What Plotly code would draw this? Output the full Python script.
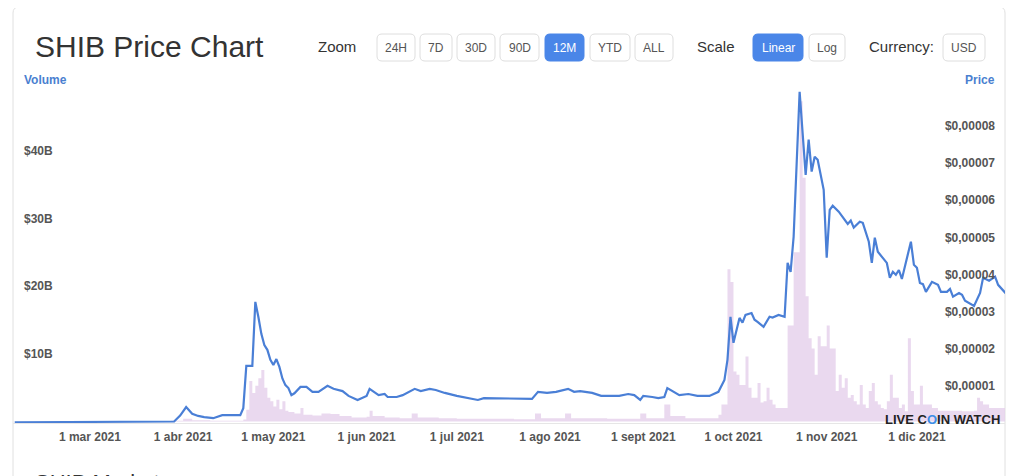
import plotly.graph_objects as go

# ---------------- data ----------------
price_dates = [
    "2021-02-04", "2021-02-20", "2021-03-08", "2021-03-22", "2021-03-29", "2021-03-31",
    "2021-04-02", "2021-04-04", "2021-04-06", "2021-04-08", "2021-04-11", "2021-04-14",
    "2021-04-17", "2021-04-20", "2021-04-21", "2021-04-22", "2021-04-24", "2021-04-25",
    "2021-04-26", "2021-04-27", "2021-04-28", "2021-04-29", "2021-04-30", "2021-05-01",
    "2021-05-02", "2021-05-03", "2021-05-04", "2021-05-05", "2021-05-06", "2021-05-07",
    "2021-05-08", "2021-05-10", "2021-05-12", "2021-05-14", "2021-05-16", "2021-05-19",
    "2021-05-21", "2021-05-24", "2021-05-26", "2021-05-29", "2021-06-01", "2021-06-02",
    "2021-06-05", "2021-06-07", "2021-06-08", "2021-06-11", "2021-06-13", "2021-06-17",
    "2021-06-19", "2021-06-22", "2021-06-24", "2021-06-27", "2021-07-01", "2021-07-03",
    "2021-07-08", "2021-07-10", "2021-07-15", "2021-07-18", "2021-07-22", "2021-07-26",
    "2021-07-28", "2021-07-31", "2021-08-03", "2021-08-07", "2021-08-09", "2021-08-11",
    "2021-08-15", "2021-08-18", "2021-08-21", "2021-08-24", "2021-08-27", "2021-08-29",
    "2021-08-31", "2021-09-01", "2021-09-04", "2021-09-06", "2021-09-08", "2021-09-09",
    "2021-09-13", "2021-09-16", "2021-09-19", "2021-09-23", "2021-09-26", "2021-09-28",
    "2021-09-29", "2021-09-30", "2021-10-01", "2021-10-03", "2021-10-04", "2021-10-05",
    "2021-10-07", "2021-10-08", "2021-10-09", "2021-10-11", "2021-10-13", "2021-10-14",
    "2021-10-16", "2021-10-18", "2021-10-19", "2021-10-20", "2021-10-21", "2021-10-22",
    "2021-10-23", "2021-10-25", "2021-10-26", "2021-10-27", "2021-10-28", "2021-10-29",
    "2021-10-31", "2021-11-01", "2021-11-02", "2021-11-03", "2021-11-05", "2021-11-08",
    "2021-11-09", "2021-11-10", "2021-11-12", "2021-11-13", "2021-11-15", "2021-11-16",
    "2021-11-17", "2021-11-18", "2021-11-20", "2021-11-21", "2021-11-22", "2021-11-23",
    "2021-11-24", "2021-11-25", "2021-11-26", "2021-11-29", "2021-11-30", "2021-12-01",
    "2021-12-02", "2021-12-03", "2021-12-04", "2021-12-06", "2021-12-08", "2021-12-09",
    "2021-12-11", "2021-12-12", "2021-12-13", "2021-12-15", "2021-12-16", "2021-12-17",
    "2021-12-20", "2021-12-22", "2021-12-23", "2021-12-25", "2021-12-27", "2021-12-28",
    "2021-12-31",
]
# price in units of 1e-5 USD
price_e5 = [
    0.02, 0.02, 0.02, 0.03, 0.04, 0.20,
    0.43, 0.25, 0.19, 0.16, 0.13, 0.21,
    0.20, 0.21, 0.40, 1.54, 1.54, 3.26,
    2.86, 2.40, 2.10, 1.97, 1.70, 1.56,
    1.72, 1.51, 1.20, 1.02, 0.94, 0.75,
    0.80, 0.97, 0.97, 0.84, 0.84, 1.00,
    0.92, 0.86, 0.73, 0.62, 0.73, 0.92,
    0.75, 0.78, 0.70, 0.70, 0.75, 0.92,
    0.86, 0.92, 0.89, 0.81, 0.73, 0.70,
    0.62, 0.67, 0.67, 0.65, 0.65, 0.65,
    0.84, 0.81, 0.84, 0.92, 0.84, 0.86,
    0.81, 0.73, 0.73, 0.73, 0.78, 0.75,
    0.62, 0.73, 0.70, 0.67, 0.70, 0.94,
    0.75, 0.78, 0.73, 0.73, 0.84, 1.16,
    1.70, 2.86, 2.16, 2.83, 2.70, 2.91,
    2.96, 2.78, 2.72, 2.59, 2.86, 2.84,
    2.91, 2.86, 4.31, 4.07, 5.01, 7.00,
    8.92, 6.68, 7.63, 6.77, 7.17, 7.09,
    6.28, 4.45, 5.74, 5.85, 5.69, 5.36,
    5.45, 5.26, 5.42, 5.39, 4.88, 4.31,
    4.99, 4.61, 4.39, 4.31, 3.91, 4.07,
    3.99, 4.12, 3.88, 4.88, 4.26, 4.18,
    3.77, 3.74, 3.53, 3.80, 3.72, 3.53,
    3.53, 3.61, 3.40, 3.50, 3.45, 3.29,
    3.15, 3.50, 3.91, 3.83, 3.94, 3.72,
    3.45,
]

volume_dates = [
    "2021-02-04", "2021-03-28", "2021-04-01", "2021-04-04", "2021-04-10", "2021-04-21",
    "2021-04-22", "2021-04-23", "2021-04-24", "2021-04-25", "2021-04-26", "2021-04-27",
    "2021-04-28", "2021-04-29", "2021-04-30", "2021-05-01", "2021-05-02", "2021-05-03",
    "2021-05-04", "2021-05-05", "2021-05-06", "2021-05-08", "2021-05-10", "2021-05-11",
    "2021-05-14", "2021-05-17", "2021-05-20", "2021-05-23", "2021-05-27", "2021-06-01",
    "2021-06-02", "2021-06-03", "2021-06-07", "2021-06-12", "2021-06-16", "2021-06-18",
    "2021-06-25", "2021-07-01", "2021-07-10", "2021-07-20", "2021-07-27", "2021-07-29",
    "2021-08-06", "2021-08-08", "2021-08-20", "2021-08-31", "2021-09-02", "2021-09-08",
    "2021-09-10", "2021-09-15", "2021-09-22", "2021-09-26", "2021-09-27", "2021-09-28",
    "2021-09-29", "2021-09-30", "2021-10-01", "2021-10-02", "2021-10-03", "2021-10-04",
    "2021-10-05", "2021-10-06", "2021-10-07", "2021-10-08", "2021-10-09", "2021-10-10",
    "2021-10-11", "2021-10-12", "2021-10-13", "2021-10-14", "2021-10-15", "2021-10-18",
    "2021-10-19", "2021-10-20", "2021-10-21", "2021-10-22", "2021-10-23", "2021-10-24",
    "2021-10-25", "2021-10-26", "2021-10-27", "2021-10-28", "2021-10-29", "2021-10-30",
    "2021-10-31", "2021-11-01", "2021-11-02", "2021-11-03", "2021-11-04", "2021-11-05",
    "2021-11-06", "2021-11-07", "2021-11-08", "2021-11-09", "2021-11-10", "2021-11-11",
    "2021-11-12", "2021-11-13", "2021-11-14", "2021-11-15", "2021-11-16", "2021-11-17",
    "2021-11-18", "2021-11-19", "2021-11-20", "2021-11-21", "2021-11-22", "2021-11-23",
    "2021-11-24", "2021-11-25", "2021-11-26", "2021-11-27", "2021-11-28", "2021-11-29",
    "2021-11-30", "2021-12-01", "2021-12-02", "2021-12-03", "2021-12-06", "2021-12-08",
    "2021-12-12", "2021-12-16", "2021-12-20", "2021-12-21", "2021-12-22", "2021-12-23",
    "2021-12-25", "2021-12-28", "2021-12-31",
]
# volume in billions of USD
volume_b = [
    0.05, 0.1, 0.4, 0.2, 0.1, 0.3,
    1.75, 6.0, 4.2, 5.3, 6.4, 7.6,
    5.0, 3.5, 3.0, 2.2, 3.2, 1.8,
    3.0, 1.6, 1.4, 1.2, 2.0, 1.0,
    0.9, 1.2, 1.1, 0.8, 0.6, 0.7,
    1.6, 0.8, 0.6, 0.5, 1.2, 0.6,
    0.5, 0.4, 0.4, 0.35, 1.2, 0.5,
    1.2, 0.5, 0.4, 1.2, 0.5, 2.5,
    0.8, 0.5, 0.5, 1.0, 2.5, 2.5,
    22.5, 20.6, 7.4, 6.9, 5.4, 5.4,
    9.6, 5.0, 3.5, 3.5, 5.7, 2.8,
    3.0, 5.0, 3.2, 2.5, 2.0, 2.0,
    14.2, 14.2, 25.0, 25.0, 47.3, 36.0,
    18.5, 12.3, 10.8, 6.9, 12.6, 11.1,
    11.1, 14.2, 10.8, 10.8, 4.5, 6.9,
    5.0, 6.4, 3.5, 3.9, 3.0, 2.5,
    5.4, 2.5, 2.0, 4.5, 5.7, 3.0,
    2.5, 2.0, 1.8, 3.0, 6.9, 3.5,
    3.5, 2.0, 2.5, 1.5, 12.3, 4.5,
    2.5, 2.5, 5.3, 2.5, 2.0, 1.6,
    1.6, 1.5, 1.6, 3.5, 3.0, 2.5,
    2.0, 2.0, 2.0,
]

month_ticks = ["2021-03-01", "2021-04-01", "2021-05-01", "2021-06-01", "2021-07-01",
               "2021-08-01", "2021-09-01", "2021-10-01", "2021-11-01", "2021-12-01"]
month_labels = ["1 mar 2021", "1 abr 2021", "1 may 2021", "1 jun 2021", "1 jul 2021",
                "1 ago 2021", "1 sept 2021", "1 oct 2021", "1 nov 2021", "1 dic 2021"]

volume_ticks = [10, 20, 30, 40]
volume_labels = ["$10B", "$20B", "$30B", "$40B"]
price_ticks = [1e-5, 2e-5, 3e-5, 4e-5, 5e-5, 6e-5, 7e-5, 8e-5]
price_labels = ["$0,00001", "$0,00002", "$0,00003", "$0,00004",
                "$0,00005", "$0,00006", "$0,00007", "$0,00008"]

zoom_buttons = ["24H", "7D", "30D", "90D", "12M", "YTD", "ALL"]
scale_buttons = ["Linear", "Log"]

# ---------------- layout geometry (screen pixels) ----------------
# the page body has an 8px margin, so the figure starts at (8, 8) on screen
OX, OY = 8, 8
W, H = 1024 - OX, 476 - OY
L, R, T, B = 13, 1005, 88, 423          # plot area on screen
PW, PH = R - L, B - T


def X(px):
    return (px - L) / PW


def Y(py):
    return (B - py) / PH


def rounded(x0, y0, x1, y1, r):
    rx, ry = r / PW, r / PH
    a, b, c, d = X(x0), Y(y0), X(x1), Y(y1)
    return (f"M {a+rx},{b} L {c-rx},{b} Q {c},{b} {c},{b-ry} L {c},{d+ry} "
            f"Q {c},{d} {c-rx},{d} L {a+rx},{d} Q {a},{d} {a},{d+ry} L {a},{b-ry} "
            f"Q {a},{b} {a+rx},{b} Z")


FONT = "Liberation Sans, Arial, sans-serif"
BLUE = "#4a86e8"
LINE_BLUE = "#4a7fd6"

fig = go.Figure()

fig.add_trace(go.Scatter(
    x=volume_dates, y=volume_b, mode="lines", line=dict(shape="hv", width=0, color="#e8d6ee"),
    fill="tozeroy", fillcolor="rgba(228,206,234,0.78)", yaxis="y", hoverinfo="skip",
    showlegend=False,
))
fig.add_trace(go.Scatter(
    x=price_dates, y=[v * 1e-5 for v in price_e5], mode="lines",
    line=dict(color=LINE_BLUE, width=2.2), yaxis="y2", showlegend=False,
))

shapes = []
annotations = []


def text(t, px, py, size, color, xanchor="left", bold=False):
    annotations.append(dict(
        text=f"<b>{t}</b>" if bold else t, xref="paper", yref="paper",
        x=X(px), y=Y(py), xanchor=xanchor, yanchor="middle",
        font=dict(size=size, color=color, family=FONT), showarrow=False,
    ))


# card border
shapes.append(dict(
    type="path", xref="paper", yref="paper", layer="below",
    path=(f"M {X(13)},{Y(490)} L {X(13)},{Y(13)} Q {X(13)},{Y(7)} {X(19)},{Y(7)} "
          f"L {X(999)},{Y(7)} Q {X(1005)},{Y(7)} {X(1005)},{Y(13)} L {X(1005)},{Y(490)}"),
    line=dict(color="#e0e0e0", width=1),
))

text("SHIB Price Chart", 33, 47, 30, "#333")
text("Zoom", 316, 47, 15, "#333")
text("Scale", 695, 47, 15, "#333")
text("Currency:", 867, 47, 15, "#333")

zoom_spans = [(377, 415), (420, 452), (457, 495), (500, 539), (545, 584), (590, 630), (635, 673)]
for label, (a, b) in zip(zoom_buttons, zoom_spans):
    active = label == "12M"
    shapes.append(dict(type="path", xref="paper", yref="paper", path=rounded(a, 34, b, 61, 5),
                       fillcolor=BLUE if active else "white",
                       line=dict(color=BLUE if active else "#dedede", width=1)))
    text(label, (a + b) / 2, 47.5, 12, "white" if active else "#555", xanchor="center")

scale_spans = [(753, 803), (809, 845)]
for label, (a, b) in zip(scale_buttons, scale_spans):
    active = label == "Linear"
    shapes.append(dict(type="path", xref="paper", yref="paper", path=rounded(a, 34, b, 61, 5),
                       fillcolor=BLUE if active else "white",
                       line=dict(color=BLUE if active else "#dedede", width=1)))
    text(label, (a + b) / 2, 47.5, 12, "white" if active else "#555", xanchor="center")

shapes.append(dict(type="path", xref="paper", yref="paper", path=rounded(943, 34, 985, 61, 5),
                   fillcolor="white", line=dict(color="#dedede", width=1)))
text("USD", 964, 47.5, 12, "#555", xanchor="center")

text("Volume", 22, 80, 12, "#4a7fd0", bold=True)
text("Price", 997, 80, 12, "#4a7fd0", xanchor="right", bold=True)

text("LIVE C<span style='color:#3d8ee6'>O</span>IN WATCH", 1002, 419, 13, "#222",
     xanchor="right", bold=True)

text("SHIB Markets", 33, 482, 22, "#333")

fig.update_layout(
    width=W, height=H,
    margin=dict(l=L - OX, r=(OX + W) - R, t=T - OY, b=(OY + H) - B, pad=0),
    paper_bgcolor="white", plot_bgcolor="rgba(0,0,0,0)",
    showlegend=False,
    shapes=shapes,
    annotations=annotations,
    xaxis=dict(
        type="date", range=["2021-02-03 10:00", "2021-12-30 07:00"],
        tickvals=month_ticks, ticktext=month_labels,
        tickfont=dict(size=12, color="#555", family=FONT, weight="bold"),
        showgrid=False, zeroline=False, showline=True, linecolor="#e6e6e6", linewidth=1,
        ticks="", ticklabelstandoff=3, fixedrange=True,
    ),
    yaxis=dict(
        range=[-0.22, 49.27], side="left", tickvals=volume_ticks, ticktext=volume_labels,
        ticklabelposition="inside", ticklabelstandoff=8,
        tickfont=dict(size=12, color="#555", family=FONT, weight="bold"),
        showgrid=False, zeroline=False, showline=False, ticks="",
    ),
    yaxis2=dict(
        range=[0, 9.02e-5], side="right", overlaying="y",
        tickvals=price_ticks, ticktext=price_labels,
        ticklabelposition="inside", ticklabelstandoff=7,
        tickfont=dict(size=12, color="#555", family=FONT, weight="bold"),
        showgrid=False, zeroline=False, showline=False, ticks="",
    ),
)

fig.write_html("out.html")
